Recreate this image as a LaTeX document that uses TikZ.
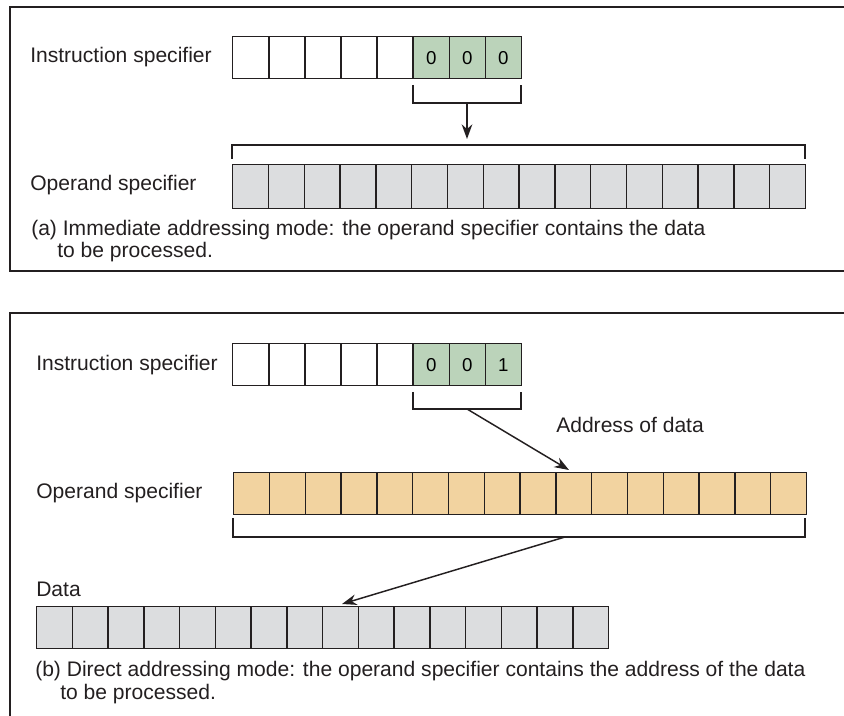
\documentclass[tikz,border=0pt]{standalone}
\usepackage{fontspec}
\setmainfont{Liberation Sans}
\usetikzlibrary{arrows.meta,positioning}

\definecolor{instgreen}{HTML}{BBD3BA}
\definecolor{cellgray}{HTML}{DCDDDF}
\definecolor{opertan}{HTML}{F2D3A0}
\definecolor{inkline}{HTML}{231F20}

\tikzset{
  cell/.style={draw=inkline, line width=1.1pt, inner sep=0pt, anchor=north west,
    minimum width=27pt, minimum height=31.5pt, font=\fontsize{14}{16}\selectfont},
  lbltext/.style={anchor=base west, inner sep=0pt, text=inkline,
    font=\fontsize{15.8}{18}\selectfont},
  bracket/.style={draw=inkline, line width=1.1pt},
  pointer/.style={draw=inkline, line width=1.1pt, -{Stealth[length=11pt,width=8pt]}},
  panel/.style={draw=inkline, line width=1.6pt},
}

\begin{document}
\begin{tikzpicture}[x=0.75pt,y=-0.75pt]
    \useasboundingbox (0,0) rectangle (844,716);
    % Khung hai phan
    \draw[panel] (846,7) -- (10,7) -- (10,271) -- (846,271);
    \draw[panel] (846,313) -- (10,313) -- (10,718);

    % (a) Instruction specifier
    \node[lbltext] (instA) at (30,63) {Instruction specifier};
    \foreach \i in {1,...,5}
    \node[cell] (ia\i) at ({232+36.1*(\i-1)},36) {};
    \foreach \i/\b in {6/0,7/0,8/0}
    \node[cell,fill=instgreen] (ia\i) at ({232+36.1*(\i-1)},36) {\b};

    % ngoac duoi 3 bit
    \draw[bracket] (413,85) -- (413,103) -- (521,103) -- (521,85);
    \coordinate (brA) at (467,103);
    \coordinate (tipA) at (467,139);
    \draw[pointer] (brA) -- (tipA);

    % (a) Operand specifier
    \draw[bracket] (232,159) -- (232,145) -- (805,145) -- (805,159);
    \node[lbltext] (operA) at (30,191) {Operand specifier};
    \foreach \i in {1,...,16}
    \node[cell,fill=cellgray,minimum width=26.85pt,minimum height=33pt] (oa\i) at ({232+35.8*(\i-1)},164) {};

    \node[lbltext] (capA1) at (31,236) {(a) Immediate addressing mode: the operand specifier contains the data};
    \node[lbltext] (capA2) at (57,258) {to be processed.};

    % (b) Instruction specifier
    \node[lbltext] (instB) at (36,371) {Instruction specifier};
    \foreach \i in {1,...,5}
    \node[cell] (ib\i) at ({232+36.1*(\i-1)},343) {};
    \foreach \i/\b in {6/0,7/0,8/1}
    \node[cell,fill=instgreen] (ib\i) at ({232+36.1*(\i-1)},343) {\b};

    \draw[bracket] (413,392) -- (413,409) -- (521,409) -- (521,392);
    \coordinate (brB) at (467,409);
    \coordinate (tipB) at (569,470);
    \draw[pointer] (brB) -- (tipB);
    \node[lbltext] (addr) at (556,433) {Address of data};

    % (b) Operand specifier
    \node[lbltext] (operB) at (36,499) {Operand specifier};
    \foreach \i in {1,...,16}
    \node[cell,fill=opertan,minimum width=26.85pt] (ob\i) at ({233+35.8*(\i-1)},472) {};
    \draw[bracket] (233,518) -- (233,537) -- (805,537) -- (805,518);
    \coordinate (brC) at (565,537);
    \coordinate (tipC) at (342,604);
    \draw[pointer] (brC) -- (tipC);

    % (b) Data
    \node[lbltext] (data) at (36,597) {Data};
    \foreach \i in {1,...,16}
    \node[cell,fill=cellgray,minimum width=26.8pt] (db\i) at ({36+35.75*(\i-1)},606) {};

    \node[lbltext] (capB1) at (35,677) {(b) Direct addressing mode: the operand specifier contains the address of the data};
    \node[lbltext] (capB2) at (60,700) {to be processed.};
\end{tikzpicture}
\end{document}
